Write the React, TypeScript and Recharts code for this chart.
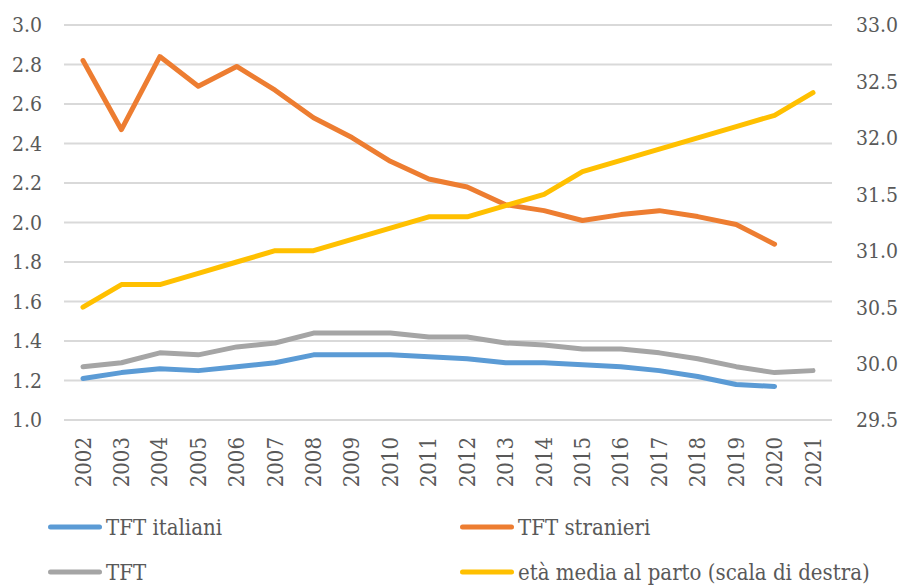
import { LineChart, Line, XAxis, YAxis, CartesianGrid, Legend } from 'recharts'

const years = ['2002', '2003', '2004', '2005', '2006', '2007', '2008', '2009', '2010', '2011', '2012', '2013', '2014', '2015', '2016', '2017', '2018', '2019', '2020', '2021']
const tftItaliani = [1.21, 1.24, 1.26, 1.25, 1.27, 1.29, 1.33, 1.33, 1.33, 1.32, 1.31, 1.29, 1.29, 1.28, 1.27, 1.25, 1.22, 1.18, 1.17, null]
const tftStranieri = [2.82, 2.47, 2.84, 2.69, 2.79, 2.67, 2.53, 2.43, 2.31, 2.22, 2.18, 2.09, 2.06, 2.01, 2.04, 2.06, 2.03, 1.99, 1.89, null]
const tftTotale = [1.27, 1.29, 1.34, 1.33, 1.37, 1.39, 1.44, 1.44, 1.44, 1.42, 1.42, 1.39, 1.38, 1.36, 1.36, 1.34, 1.31, 1.27, 1.24, 1.25]
const etaMedia = [30.5, 30.7, 30.7, 30.8, 30.9, 31.0, 31.0, 31.1, 31.2, 31.3, 31.3, 31.4, 31.5, 31.7, 31.8, 31.9, 32.0, 32.1, 32.2, 32.4]
const leftTicks = [1.0, 1.2, 1.4, 1.6, 1.8, 2.0, 2.2, 2.4, 2.6, 2.8, 3.0]
const rightTicks = [29.5, 30.0, 30.5, 31.0, 31.5, 32.0, 32.5, 33.0]

const FONT = "'DejaVu Serif Condensed', 'DejaVu Serif', serif"
const TEXT = '#595959'

const series = [
  { key: 'italiani', name: 'TFT italiani', color: '#5b9bd5', axis: 'left' },
  { key: 'stranieri', name: 'TFT stranieri', color: '#ed7d31', axis: 'left' },
  { key: 'totale', name: 'TFT', color: '#a5a5a5', axis: 'left' },
  { key: 'eta', name: 'età media al parto (scala di destra)', color: '#ffc000', axis: 'right' },
]

const data = years.map((y, i) => ({
  year: y,
  italiani: tftItaliani[i],
  stranieri: tftStranieri[i],
  totale: tftTotale[i],
  eta: etaMedia[i],
}))

const YearTick = ({ x, y, payload }: any) => (
  <text
    x={x}
    y={y}
    transform={`rotate(-90, ${x}, ${y})`}
    textAnchor="end"
    dominantBaseline="central"
    fill={TEXT}
    fontSize={22}
    fontFamily={FONT}
  >
    {payload.value}
  </text>
)

const legendPos = [
  { left: 48, top: 27 },
  { left: 460, top: 27 },
  { left: 48, top: 72 },
  { left: 460, top: 72 },
]

const renderLegend = () => (
  <div style={{ position: 'relative', width: 900, height: 85 }}>
    {series.map((s, i) => (
      <div
        key={s.key}
        style={{
          position: 'absolute',
          left: legendPos[i].left,
          top: legendPos[i].top,
          transform: 'translateY(-50%)',
          display: 'flex',
          alignItems: 'center',
          whiteSpace: 'nowrap',
        }}
      >
        <span style={{ display: 'inline-block', width: 54, height: 5, borderRadius: 3, background: s.color, marginRight: 4 }} />
        <span style={{ fontFamily: FONT, fontSize: 22, color: TEXT }}>{s.name}</span>
      </div>
    ))}
  </div>
)

export default function App() {
  return (
    <div style={{ position: 'absolute', left: 0, top: 0, width: 900, height: 585, background: '#fff' }}>
      <LineChart width={900} height={585} data={data} margin={{ top: 25, right: 0, bottom: 0, left: 0 }}>
        <CartesianGrid vertical={false} stroke="#d9d9d9" strokeWidth={2} yAxisId="left" />
        <XAxis
          dataKey="year"
          height={80}
          tick={<YearTick />}
          tickLine={false}
          axisLine={{ stroke: '#d9d9d9', strokeWidth: 2 }}
          tickMargin={11}
          interval={0}
          padding={{ left: 19, right: 19 }}
        />
        <YAxis
          yAxisId="left"
          width={64}
          domain={[1, 3]}
          ticks={leftTicks}
          tickFormatter={(v: number) => v.toFixed(1)}
          tickLine={false}
          axisLine={false}
          tickMargin={16}
          tick={{ fill: TEXT, fontSize: 21, fontFamily: FONT }}
        />
        <YAxis
          yAxisId="right"
          orientation="right"
          width={68}
          domain={[29.5, 33]}
          ticks={rightTicks}
          tickFormatter={(v: number) => v.toFixed(1)}
          tickLine={false}
          axisLine={false}
          tickMargin={18}
          tick={{ fill: TEXT, fontSize: 21, fontFamily: FONT, textAnchor: 'start' }}
        />
        <Legend verticalAlign="bottom" height={85} content={renderLegend} wrapperStyle={{ left: 0, bottom: 0, width: 900, height: 85 }} />
        {series.map((s) => (
          <Line
            key={s.key}
            yAxisId={s.axis}
            dataKey={s.key}
            name={s.name}
            type="linear"
            stroke={s.color}
            strokeWidth={5}
            strokeLinecap="round"
            strokeLinejoin="round"
            dot={false}
            activeDot={false}
            isAnimationActive={false}
          />
        ))}
      </LineChart>
    </div>
  )
}
